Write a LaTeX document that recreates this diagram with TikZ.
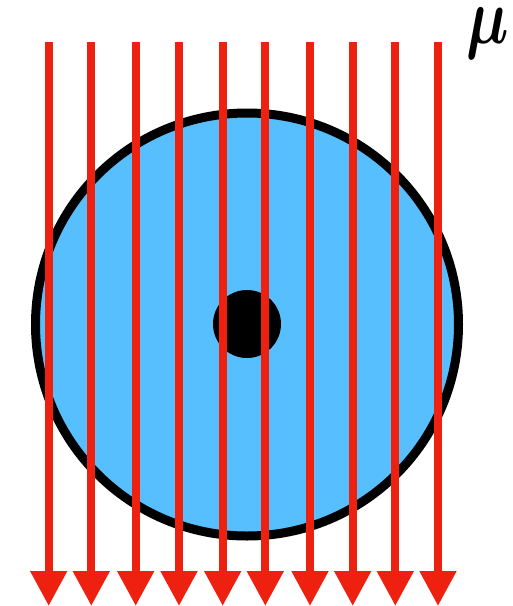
\documentclass[tikz,border=0pt]{standalone}
\usepackage{amsmath}
\usetikzlibrary{arrows.meta}
\definecolor{discblue}{RGB}{88,191,255}
\definecolor{rayred}{RGB}{238,32,16}
\tikzset{
  ray/.style={draw=rayred, line width=8pt, -{Triangle[width=35pt,length=35pt]}},
  disc/.style={draw=black, line width=9pt, fill=discblue},
  core/.style={fill=black},
}
\begin{document}
\begin{tikzpicture}[x=1pt,y=-1pt]
\useasboundingbox (0,0) rectangle (513,606);
\path[disc] (247,324.5) circle (211.5);
\path[core] (247,324) circle (34);
\foreach \i/\x in {1/48.7,2/91.3,3/135.7,4/179,5/222.7,6/265.3,7/310,8/352.7,9/395.3,10/438}{
  \coordinate (top\i) at (\x,42);
  \coordinate (bot\i) at (\x,606);
  \draw[ray] (top\i) -- (bot\i);
}
\node[anchor=base, inner sep=0pt, xscale=6.0, yscale=8.0] (mu) at (488,43) {$\boldsymbol{\mu}$};
\end{tikzpicture}
\end{document}
